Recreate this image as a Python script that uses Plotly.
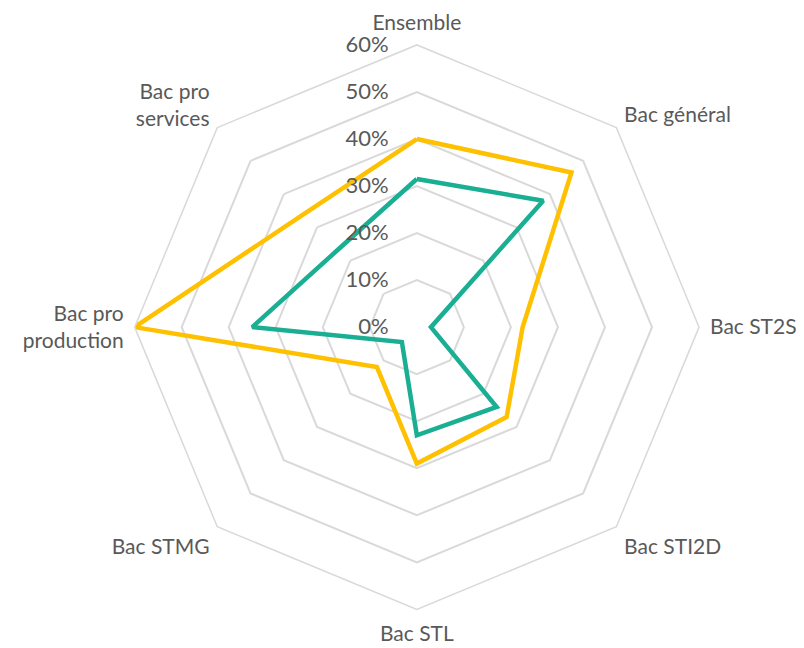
"""Radar chart : part par type de bac."""

import plotly.graph_objects as go

CATEGORIES = [
    "Ensemble",
    "Bac général",
    "Bac ST2S",
    "Bac STI2D",
    "Bac STL",
    "Bac STMG",
    "Bac pro<br>production",
    "Bac pro<br>services",
]
SERIE_JAUNE = [0.40, 0.465, 0.225, 0.27, 0.29, 0.12, 0.60, 0.34]
SERIE_VERTE = [0.315, 0.38, 0.03, 0.24, 0.23, 0.045, 0.35, 0.235]
TICK_VALUES = [0, 0.1, 0.2, 0.3, 0.4, 0.5, 0.6]

YELLOW = "#FFC000"
TEAL = "#1AAE93"
GRID = "#D9D9D9"
TEXT = "#595959"

fig = go.Figure()
for values, color in [(SERIE_JAUNE, YELLOW), (SERIE_VERTE, TEAL)]:
    fig.add_trace(
        go.Scatterpolar(
            r=values + values[:1],
            theta=CATEGORIES + CATEGORIES[:1],
            mode="lines",
            line=dict(color=color, width=4.5),
            hoverinfo="skip",
        )
    )

fig.update_layout(
    width=804,
    height=648,
    margin=dict(l=0, r=0, t=0, b=0),
    paper_bgcolor="white",
    showlegend=False,
    font=dict(family="Lato, Open Sans, sans-serif", size=21, color=TEXT),
    polar=dict(
        domain=dict(x=[0.156, 0.861], y=[0.072, 0.943]),
        bgcolor="white",
        gridshape="linear",
        radialaxis=dict(
            range=[0, 0.6],
            tickvals=TICK_VALUES,
            tickformat=".0%",
            angle=90,
            tickangle=90,
            side="counterclockwise",
            showline=False,
            ticks="outside",
            ticklen=20,
            tickcolor="rgba(0,0,0,0)",
            gridcolor=GRID,
            gridwidth=1.5,
            tickfont=dict(size=22, color=TEXT),
        ),
        angularaxis=dict(
            direction="clockwise",
            rotation=90,
            showgrid=False,
            linecolor=GRID,
            linewidth=1.5,
            ticks="outside",
            ticklen=6,
            tickcolor="rgba(0,0,0,0)",
            tickfont=dict(size=21, color=TEXT),
        ),
    ),
)

fig.write_html("out.html")
